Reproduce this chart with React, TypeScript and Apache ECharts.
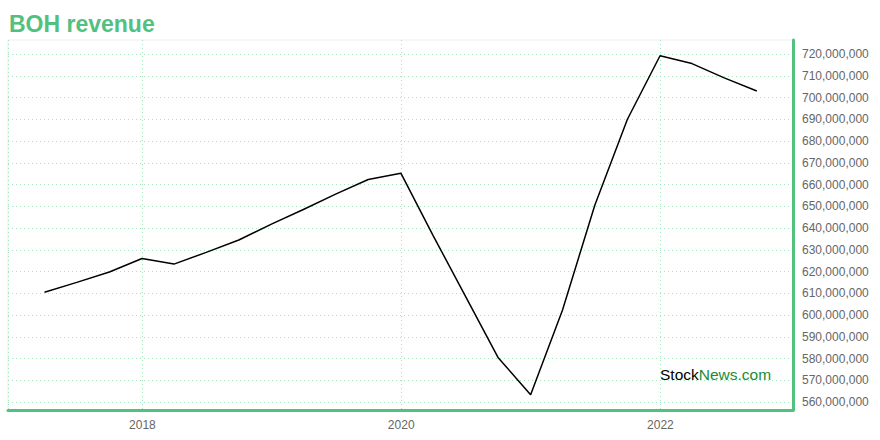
import React, { useEffect, useRef } from "react";
import * as echarts from "echarts";

const dates = [
  "2017-03-31", "2017-06-30", "2017-09-30", "2017-12-31",
  "2018-03-31", "2018-06-30", "2018-09-30", "2018-12-31",
  "2019-03-31", "2019-06-30", "2019-09-30", "2019-12-31",
  "2020-03-31", "2020-06-30", "2020-09-30", "2020-12-31",
  "2021-03-31", "2021-06-30", "2021-09-30", "2021-12-31",
  "2022-03-31", "2022-06-30", "2022-09-30",
];
const revenue = [
  610.5e6, 615.0e6, 619.8e6, 626.0e6,
  623.4e6, 628.8e6, 634.5e6, 641.8e6,
  648.5e6, 655.6e6, 662.3e6, 665.2e6,
  636.5e6, 608.7e6, 580.5e6, 563.3e6,
  602.3e6, 650.5e6, 690.0e6, 719.2e6,
  715.6e6, 709.0e6, 703.0e6,
];
const xMin = "2016-12-18";
const xMax = "2023-01-10";
const yMin = 560e6;
const yMax = 720e6;
const yStep = 10e6;

const GREEN = "#52c07f";
const GRID_GREEN = "#a6e3bf";
const FONT = "'Liberation Sans', Arial, Helvetica, sans-serif";

export default function App() {
  const ref = useRef<HTMLDivElement>(null);
  useEffect(() => {
    document.body.style.margin = "0";
    if (!ref.current) return;
    const chart = echarts.init(ref.current, undefined, { renderer: "svg" });
    const xMinT = new Date(xMin).getTime();
    const xMaxT = new Date(xMax).getTime();
    chart.setOption({
      animation: false,
      title: {
        text: "BOH revenue",
        left: 4,
        top: 7,
        textStyle: {
          color: GREEN,
          fontSize: 23,
          fontWeight: "bold",
          fontFamily: FONT,
        },
      },
      grid: [
        { left: 8, right: 87, top: 40, bottom: 30, show: true, borderColor: "#eeeeee", borderWidth: 1 },
        { left: 8, right: 87, top: 54, bottom: 38 },
      ],
      xAxis: [
        {
          type: "time",
          gridIndex: 0,
          min: xMinT,
          max: xMaxT,
          splitNumber: 3,
          axisLine: { show: true, lineStyle: { color: GREEN, width: 3 } },
          axisTick: { show: false },
          axisLabel: {
            color: "#666",
            fontSize: 12,
            fontFamily: FONT,
            margin: 9,
            formatter: (v: number) => String(new Date(v).getFullYear()),
          },
          splitLine: { show: true, lineStyle: { color: GRID_GREEN, type: [1, 3], width: 1 } },
        },
        {
          type: "time",
          gridIndex: 1,
          min: xMinT,
          max: xMaxT,
          show: false,
          splitLine: { show: false },
        },
      ],
      yAxis: [
        {
          type: "value",
          gridIndex: 0,
          position: "right",
          min: 0,
          max: 1,
          axisLine: { show: true, lineStyle: { color: GREEN, width: 3 } },
          axisTick: { show: false },
          axisLabel: { show: false },
          splitLine: { show: false },
        },
        {
          type: "value",
          gridIndex: 1,
          position: "right",
          min: yMin,
          max: yMax,
          interval: yStep,
          axisLine: { show: false },
          axisTick: { show: false },
          axisLabel: {
            color: "#666",
            fontSize: 12,
            fontFamily: FONT,
            margin: 9,
            formatter: (v: number) => v.toLocaleString("en-US"),
          },
          splitLine: { show: true, lineStyle: { color: GRID_GREEN, type: [1, 3], width: 1 } },
        },
      ],
      graphic: [
        {
          type: "text",
          left: 660,
          top: 366,
          z: 100,
          style: {
            text: "{a|Stock}{b|News.com}",
            rich: {
              a: { fill: "#000", fontSize: 15.5, fontFamily: FONT },
              b: { fill: "#1e8a34", fontSize: 15.5, fontFamily: FONT },
            },
          },
        },
      ],
      series: [
        {
          type: "line",
          xAxisIndex: 1,
          yAxisIndex: 1,
          data: dates.map((d, i) => [new Date(d).getTime(), revenue[i]]),
          showSymbol: false,
          symbol: "none",
          lineStyle: { color: "#000", width: 1.5 },
        },
      ],
    });
    return () => chart.dispose();
  }, []);
  return <div ref={ref} style={{ width: 880, height: 440 }} />;
}
